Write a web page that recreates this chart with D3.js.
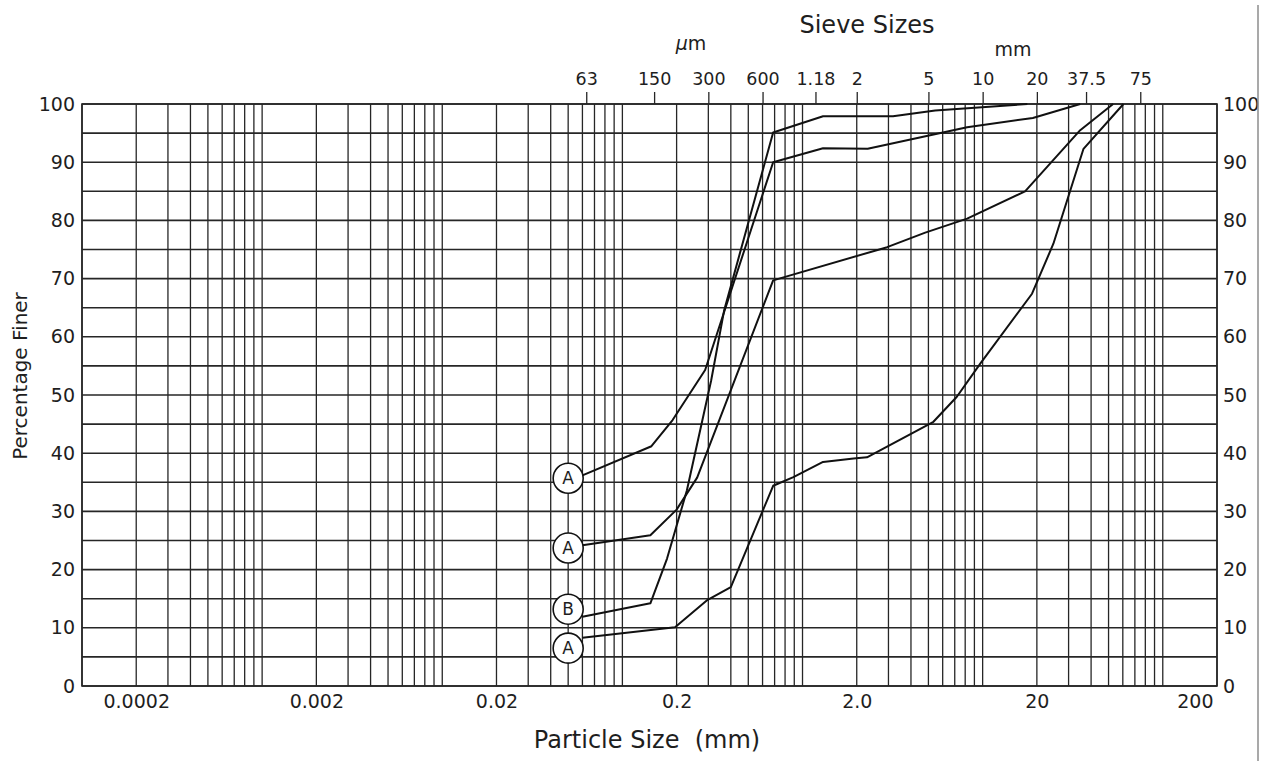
<!DOCTYPE html>
<html>
<head>
<meta charset="utf-8">
<script src="https://cdn.jsdelivr.net/npm/d3@7"></script>
<style>
  html, body { margin: 0; padding: 0; background: #fff; }
  svg { display: block; }
  text { font-family: "DejaVu Sans", sans-serif; fill: #1e1e1e; }
</style>
</head>
<body>
<svg id="chart" width="1269" height="761"></svg>
<script>
// Particle size (mm) for the labelled bottom axis
const sizeTickValues = [0.0002, 0.002, 0.02, 0.2, 2, 20, 200];
const sizeTickLabels = ["0.0002", "0.002", "0.02", "0.2", "2.0", "20", "200"];

// Sieve apertures on the top axis (mm) and their printed labels
const sieveValues = [0.063, 0.15, 0.3, 0.6, 1.18, 2, 5, 10, 20, 37.5, 75];
const sieveLabels = ["63", "150", "300", "600", "1.18", "2", "5", "10", "20", "37.5", "75"];

const percentTicks = [0, 10, 20, 30, 40, 50, 60, 70, 80, 90, 100];
const percentGrid = [0, 5, 10, 15, 20, 25, 30, 35, 40, 45, 50, 55, 60, 65, 70, 75, 80, 85, 90, 95, 100];

// Grading curves: particle size (mm) against percentage finer
const curveA1Size = [0.06, 0.145, 0.19, 0.288, 0.687, 1.30, 2.3, 8.2, 19, 34.8];
const curveA1Pct  = [36.2, 41.2, 45.7, 54.3, 90.0, 92.4, 92.3, 96.0, 97.6, 100];

const curveBSize = [0.06, 0.143, 0.177, 0.228, 0.311, 0.367, 0.687, 1.30, 3.18, 5.45, 17.7];
const curveBPct  = [11.9, 14.2, 21.9, 33.6, 52.5, 64.5, 95.1, 97.9, 97.9, 98.9, 100];

const curveA2Size = [0.06, 0.143, 0.2, 0.26, 0.687, 2.95, 4.8, 8.2, 17.2, 34.8, 53];
const curveA2Pct  = [24.2, 25.9, 30.3, 35.8, 69.7, 75.4, 77.9, 80.3, 85.0, 95.5, 100];

const curveA3Size = [0.06, 0.196, 0.294, 0.40, 0.687, 0.89, 1.30, 1.92, 2.28, 2.81, 5.33, 7.19, 9.7, 18.8, 24.7, 36.3, 60.5];
const curveA3Pct  = [8.3, 10.1, 14.7, 17.0, 34.4, 35.9, 38.5, 39.1, 39.3, 40.8, 45.4, 49.7, 55.4, 67.4, 76.0, 92.3, 100];

// Circled soil-type markers at the start of each curve
const markerLetters = ["A", "A", "B", "A"];
const markerPct = [35.7, 23.7, 13.2, 6.5];
const markerSize = 0.05;

const curves = [
  [curveA1Size, curveA1Pct],
  [curveBSize, curveBPct],
  [curveA2Size, curveA2Pct],
  [curveA3Size, curveA3Pct]
];

const plot = { left: 82, right: 1217, top: 104, bottom: 686 };
const svg = d3.select("#chart");

svg.append("rect").attr("width", 1269).attr("height", 761).attr("fill", "#fff");

const x = d3.scaleLog().domain([0.0001, 200]).range([plot.left, plot.right]);
const y = d3.scaleLinear().domain([0, 100]).range([plot.bottom, plot.top]);

const gridColor = "#262626";

// Vertical log-cycle grid (1..9 in every decade)
const gridG = svg.append("g");
gridG.selectAll("line.v")
  .data(x.ticks())
  .join("line")
  .attr("class", "v")
  .attr("x1", d => x(d)).attr("x2", d => x(d))
  .attr("y1", plot.top).attr("y2", plot.bottom)
  .attr("stroke", gridColor).attr("stroke-width", 1.3);

// Horizontal grid every 5 %
gridG.selectAll("line.h")
  .data(percentGrid)
  .join("line")
  .attr("class", "h")
  .attr("x1", plot.left).attr("x2", plot.right)
  .attr("y1", d => y(d)).attr("y2", d => y(d))
  .attr("stroke", gridColor).attr("stroke-width", 1.6);

// Frame
svg.append("rect")
  .attr("x", plot.left).attr("y", plot.top)
  .attr("width", plot.right - plot.left).attr("height", plot.bottom - plot.top)
  .attr("fill", "none").attr("stroke", gridColor).attr("stroke-width", 1.6);

// Bottom axis: particle size
const bottomAxis = svg.append("g")
  .attr("transform", `translate(0,${plot.bottom})`)
  .call(d3.axisBottom(x).tickValues(sizeTickValues).tickSize(0)
    .tickFormat((d, i) => sizeTickLabels[i]));
bottomAxis.select(".domain").remove();
bottomAxis.selectAll("text")
  .attr("y", 22).attr("dy", 0)
  .style("font-size", "19px");
bottomAxis.selectAll(".tick").filter((d, i) => i === sizeTickValues.length - 1)
  .select("text").attr("text-anchor", "end").attr("x", -4);

// Left and right percentage axes
const leftAxis = svg.append("g")
  .attr("transform", `translate(${plot.left},0)`)
  .call(d3.axisLeft(y).tickValues(percentTicks).tickSize(0).tickPadding(7));
leftAxis.select(".domain").remove();
leftAxis.selectAll("text").style("font-size", "19px");

const rightAxis = svg.append("g")
  .attr("transform", `translate(${plot.right},0)`)
  .call(d3.axisRight(y).tickValues(percentTicks).tickSize(0).tickPadding(6));
rightAxis.select(".domain").remove();
rightAxis.selectAll("text").style("font-size", "19px");

// Top axis: sieve sizes
const topAxis = svg.append("g")
  .attr("transform", `translate(0,${plot.top})`)
  .call(d3.axisTop(x).tickValues(sieveValues).tickSize(12).tickPadding(7)
    .tickFormat((d, i) => sieveLabels[i]));
topAxis.select(".domain").remove();
topAxis.selectAll("line").attr("stroke", gridColor).attr("stroke-width", 1.3);
topAxis.selectAll("text").style("font-size", "17.5px");

// Titles
svg.append("text")
  .attr("x", 867).attr("y", 33)
  .attr("text-anchor", "middle")
  .style("font-size", "24px")
  .text("Sieve Sizes");

svg.append("text")
  .attr("x", 691).attr("y", 50)
  .attr("text-anchor", "middle")
  .style("font-size", "19px")
  .html('<tspan font-style="italic">μ</tspan>m');

svg.append("text")
  .attr("x", 1013).attr("y", 56)
  .attr("text-anchor", "middle")
  .style("font-size", "19px")
  .text("mm");

svg.append("text")
  .attr("x", 647).attr("y", 748)
  .attr("text-anchor", "middle")
  .attr("xml:space", "preserve")
  .style("white-space", "pre")
  .style("font-size", "24px")
  .text("Particle Size  (mm)");

svg.append("text")
  .attr("transform", "translate(27,376) rotate(-90)")
  .attr("text-anchor", "middle")
  .style("font-size", "20px")
  .text("Percentage Finer");

// Grading curves
const line = d3.line()
  .x(d => x(d[0]))
  .y(d => y(d[1]));

svg.append("g").selectAll("path")
  .data(curves.map(([s, p]) => s.map((v, i) => [v, p[i]])))
  .join("path")
  .attr("d", line)
  .attr("fill", "none")
  .attr("stroke", "#111")
  .attr("stroke-width", 2)
  .attr("stroke-linejoin", "round");

// Circled markers
const markers = svg.append("g").selectAll("g")
  .data(markerLetters.map((t, i) => ({ t, p: markerPct[i] })))
  .join("g")
  .attr("transform", d => `translate(${x(markerSize)},${y(d.p)})`);
markers.append("circle")
  .attr("r", 15)
  .attr("fill", "#fff")
  .attr("stroke", "#111")
  .attr("stroke-width", 1.6);
markers.append("text")
  .attr("text-anchor", "middle")
  .attr("dy", "0.36em")
  .style("font-size", "17px")
  .text(d => d.t);

// Page edge on the right
svg.append("line")
  .attr("x1", 1258).attr("x2", 1258)
  .attr("y1", 5).attr("y2", 761)
  .attr("stroke", "#8c8c8c").attr("stroke-width", 1.5);
</script>
</body>
</html>
